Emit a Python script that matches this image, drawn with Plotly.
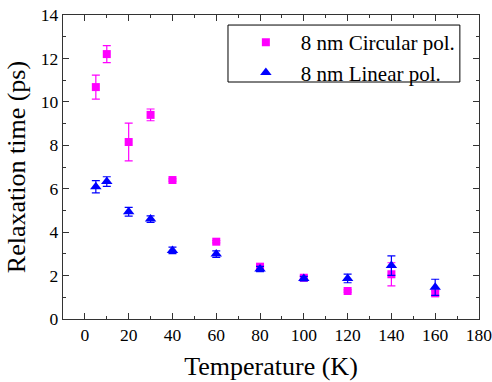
import plotly.graph_objects as go

temps = [5, 10, 20, 30, 40, 60, 80, 100, 120, 140, 160]
circ_vals = [10.68, 12.2, 8.15, 9.4, 6.4, 3.56, 2.41, 1.9, 1.29, 2.06, 1.18]
circ_err = [0.55, 0.39, 0.87, 0.27, 0.05, 0.05, 0.05, 0.08, 0.05, 0.53, 0.12]
lin_vals = [6.09, 6.33, 4.94, 4.6, 3.16, 2.99, 2.3, 1.86, 1.87, 2.46, 1.46]
lin_err = [0.28, 0.22, 0.2, 0.15, 0.15, 0.15, 0.12, 0.1, 0.2, 0.45, 0.37]

MAG = "#ff00ff"
BLUE = "#0000ff"
FONT = "'Liberation Serif', Tinos, Times, serif"

fig = go.Figure()
fig.add_trace(go.Scatter(
    x=temps, y=circ_vals, mode="markers", name="8 nm Circular pol.",
    marker=dict(symbol="square", size=8, color=MAG),
    error_y=dict(type="data", array=circ_err, color=MAG, thickness=1.2, width=4),
))
fig.add_trace(go.Scatter(
    x=temps, y=lin_vals, mode="markers", name="8 nm Linear pol.",
    marker=dict(symbol="triangle-up", size=10, color=BLUE),
    error_y=dict(type="data", array=lin_err, color=BLUE, thickness=1.2, width=4),
))

axis_common = dict(
    showline=True, linecolor="#333333", linewidth=1.3, mirror="ticks",
    ticks="inside", ticklen=6, tickcolor="#333333", tickwidth=1,
    showgrid=False, zeroline=False, automargin=False,
    ticklabeloverflow="allow",
    tickfont=dict(family=FONT, size=17.5, color="black"),
)

fig.update_xaxes(
    range=[-10, 180.01], tickvals=list(range(0, 181, 20)),
    minor=dict(ticks="inside", ticklen=3, dtick=10, tick0=0, tickcolor="#333333", showgrid=False),
    title=dict(text="Temperature (K)", font=dict(family=FONT, size=26, color="black"), standoff=12),
    **axis_common,
)
fig.update_yaxes(
    range=[0, 14], tickvals=list(range(0, 15, 2)),
    minor=dict(ticks="inside", ticklen=3, dtick=1, tick0=0, tickcolor="#333333", showgrid=False),
    title=dict(text="Relaxation time (ps)", font=dict(family=FONT, size=26, color="black"), standoff=7),
    **axis_common,
)

# legend frame drawn as a shape to match the tight box of the reference
fig.add_shape(type="rect", xref="paper", yref="paper",
              x0=0.3966, x1=0.954, y0=0.7796, y1=0.967,
              line=dict(color="black", width=1), fillcolor="white", layer="below")

fig.update_layout(
    width=492, height=382,
    margin=dict(l=63, r=13, t=15, b=63),
    plot_bgcolor="white", paper_bgcolor="white",
    legend=dict(
        x=0.954, y=0.977, xanchor="right", yanchor="top",
        borderwidth=0, bgcolor="rgba(0,0,0,0)",
        font=dict(family=FONT, size=21, color="black"),
        tracegroupgap=0, itemwidth=60,
    ),
    showlegend=True,
)

fig.write_html("out.html")
